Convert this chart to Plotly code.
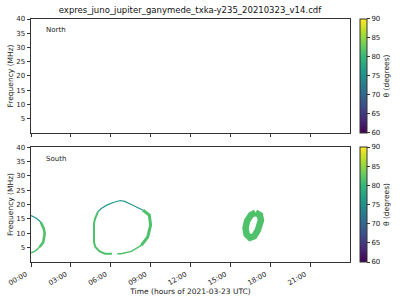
import plotly.graph_objects as go
from plotly.subplots import make_subplots
from plotly.colors import sample_colorscale

TITLE = "expres_juno_jupiter_ganymede_txka-y235_20210323_v14.cdf"
hour_ticks = [0, 3, 6, 9, 12, 15, 18, 21]
hour_labels = ["00:00", "03:00", "06:00", "09:00", "12:00", "15:00", "18:00", "21:00"]
freq_ticks = [5, 10, 15, 20, 25, 30, 35, 40]
theta_ticks = [60, 65, 70, 75, 80, 85, 90]

# South hemisphere emission contours (time in hours, frequency in MHz, theta deg)
s1_top_t = [0.0, 0.40, 0.73]
s1_top_f = [16.2, 15.2, 13.9]
s1_top_theta = 76
s1_side_t = [0.73, 0.96, 1.03, 0.92, 0.65]
s1_side_f = [13.9, 11.6, 9.9, 6.9, 5.2]
s1_side_theta = 81.5
s1_bot_t = [0.65, 0.32, 0.0]
s1_bot_f = [5.2, 3.8, 3.2]
s1_bot_theta = 81.5

s2_top_t = [5.05, 5.29, 5.67, 6.17, 6.72, 7.05, 7.55, 8.05, 8.43]
s2_top_f = [17.6, 18.6, 19.7, 20.7, 21.4, 21.1, 20.0, 18.9, 18.0]
s2_top_theta = 76
s2_left_t = [5.05, 4.82, 4.74, 4.72, 4.74, 4.84, 5.17, 5.57, 6.09]
s2_left_f = [17.6, 15.1, 13.4, 10.0, 6.9, 5.2, 3.7, 2.9, 2.9]
s2_left_theta = 81.5
s2_bot_t = [6.49, 6.79, 7.55, 8.30]
s2_bot_f = [2.9, 2.9, 3.7, 5.8]
s2_bot_theta = 81.5
s2_right_t = [8.30, 8.78, 9.00, 8.90, 8.43]
s2_right_f = [5.8, 8.7, 12.8, 16.3, 18.0]
s2_right_theta = 81.5

s3_t = [16.89, 17.22, 17.30, 17.06, 16.78, 16.48, 16.22, 16.14, 16.25, 16.55, 16.89]
s3_f = [17.2, 16.3, 14.5, 11.0, 8.9, 8.4, 9.6, 11.7, 14.2, 16.4, 17.2]
s3_theta = 81.5

segments = [
    (s1_top_t, s1_top_f, s1_top_theta, 1.2),
    (s1_side_t, s1_side_f, s1_side_theta, 2.6),
    (s1_bot_t, s1_bot_f, s1_bot_theta, 1.5),
    (s2_top_t, s2_top_f, s2_top_theta, 1.2),
    (s2_left_t, s2_left_f, s2_left_theta, 2.0),
    (s2_bot_t, s2_bot_f, s2_bot_theta, 1.5),
    (s2_right_t, s2_right_f, s2_right_theta, 3.0),
    (s3_t, s3_f, s3_theta, 6.5),
]

CMIN, CMAX = 60, 90

def theta_color(th):
    return sample_colorscale("Viridis", [(th - CMIN) / (CMAX - CMIN)])[0]

FONT = "DejaVu Sans"
AX = "#333333"

fig = make_subplots(rows=2, cols=1, shared_xaxes=False, vertical_spacing=0.058)

for t, f, th, w in segments:
    fig.add_trace(go.Scatter(x=t, y=f, mode="lines", line=dict(color=theta_color(th), width=w),
                             showlegend=False, hoverinfo="skip"), row=2, col=1)

# colorbar carriers
fig.add_trace(go.Scatter(x=[None, None], y=[None, None], mode="markers",
                         marker=dict(color=[CMIN, CMAX], coloraxis="coloraxis"), showlegend=False), row=1, col=1)
fig.add_trace(go.Scatter(x=[None, None], y=[None, None], mode="markers",
                         marker=dict(color=[CMIN, CMAX], coloraxis="coloraxis2"), showlegend=False), row=2, col=1)

top_dom = [0.531, 1.0]
bot_dom = [0.0, 0.473]

def cbar(dom):
    return dict(x=1.031, xanchor="left", y=(dom[0] + dom[1]) / 2, yanchor="middle",
                len=dom[1] - dom[0], lenmode="fraction", thickness=7, outlinewidth=1,
                outlinecolor=AX, tickvals=theta_ticks, ticks="outside", ticklen=3,
                tickcolor=AX, tickfont=dict(size=7, family=FONT, color="#222"),
                title=dict(text="θ (degrees)", side="right", font=dict(size=7.5, family=FONT, color="#222")),
                xpad=0, ypad=0)

fig.update_layout(
    width=400, height=300,
    margin=dict(l=31, r=50, t=19, b=38, autoexpand=False),
    paper_bgcolor="white", plot_bgcolor="white",
    title=dict(text=TITLE, x=0.475, xanchor="center", y=0.965, yanchor="middle",
               font=dict(size=8.5, family=FONT, color="#111")),
    coloraxis=dict(colorscale="Viridis", cmin=CMIN, cmax=CMAX, colorbar=cbar(top_dom)),
    coloraxis2=dict(colorscale="Viridis", cmin=CMIN, cmax=CMAX, colorbar=cbar(bot_dom)),
    font=dict(family=FONT, size=7, color="#222"),
)

common_x = dict(range=[0, 24], tickvals=hour_ticks, showgrid=False, zeroline=False,
                showline=True, linecolor=AX, linewidth=1, mirror=True, automargin=False,
                ticks="outside", ticklen=3.5, tickcolor=AX)
fig.update_xaxes(**common_x, showticklabels=False, row=1, col=1)
fig.update_xaxes(**common_x, ticktext=hour_labels, tickangle=-30, ticklabelshift=-5,
                 ticklabelstandoff=1,
                 tickfont=dict(size=7, family=FONT),
                 title=dict(text="Time (hours of 2021-03-23 UTC)", font=dict(size=7.5, family=FONT), standoff=0),
                 row=2, col=1)
common_y = dict(range=[0, 40], tickvals=freq_ticks, showgrid=False, zeroline=False,
                showline=True, linecolor=AX, linewidth=1, mirror=True, automargin=False,
                ticks="outside", ticklen=3.5, tickcolor=AX, tickfont=dict(size=7, family=FONT),
                title=dict(text="Frequency (MHz)", font=dict(size=7.5, family=FONT), standoff=1))
fig.update_yaxes(**common_y, row=1, col=1)
fig.update_yaxes(**common_y, row=2, col=1)
fig.update_layout(yaxis=dict(domain=top_dom), yaxis2=dict(domain=bot_dom))

fig.add_annotation(text="North", x=0.04, y=0.9, xref="x domain", yref="y domain",
                   showarrow=False, xanchor="left", yanchor="middle", font=dict(size=7, family=FONT, color="#222"))
fig.add_annotation(text="South", x=0.04, y=0.9, xref="x2 domain", yref="y2 domain",
                   showarrow=False, xanchor="left", yanchor="middle", font=dict(size=7, family=FONT, color="#222"))

fig.write_html("out.html")
